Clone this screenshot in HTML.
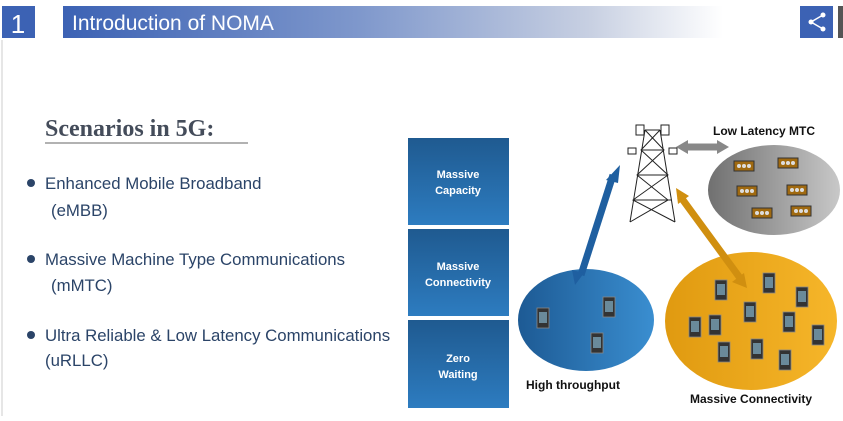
<!DOCTYPE html>
<html><head><meta charset="utf-8"><style>
body{margin:0;width:843px;height:416px;overflow:hidden;background:#fff;}
</style></head><body>
<svg width="843" height="416" viewBox="0 0 843 416" xmlns="http://www.w3.org/2000/svg" font-family="Liberation Sans, sans-serif">
<defs>
<linearGradient id="tb" x1="0" x2="1" y1="0" y2="0">
<stop offset="0" stop-color="#3c62b4"/><stop offset="0.45" stop-color="#7f98cc"/><stop offset="0.8" stop-color="#c8d0e2"/><stop offset="1" stop-color="#fff"/></linearGradient>
<linearGradient id="bx" x1="0" x2="0" y1="0" y2="1"><stop offset="0" stop-color="#1f5a90"/><stop offset="1" stop-color="#2d7cc0"/></linearGradient>
<linearGradient id="be" x1="0" x2="1"><stop offset="0" stop-color="#1d5a94"/><stop offset="1" stop-color="#3a8ed0"/></linearGradient>
<linearGradient id="oe" x1="0" x2="1"><stop offset="0" stop-color="#e09a10"/><stop offset="1" stop-color="#f6b62a"/></linearGradient>
<linearGradient id="ge" x1="0" x2="1"><stop offset="0" stop-color="#707070"/><stop offset="1" stop-color="#c8c8c8"/></linearGradient>
<g id="ph"><rect x="-6" y="-10" width="12" height="20" fill="#333" stroke="#888" stroke-width="0.8"/><rect x="-4" y="-6" width="8" height="11" fill="#6a8a9a"/></g>
<g id="mt"><rect x="-10" y="-5" width="20" height="10" fill="#a06a10" stroke="#333" stroke-width="1"/><circle cx="-5" cy="0" r="2" fill="#ddd"/><circle cx="0" cy="0" r="2" fill="#ddd"/><circle cx="5" cy="0" r="2" fill="#ddd"/></g>
</defs>
<line x1="2" y1="40" x2="2" y2="416" stroke="#ccc"/>
<rect x="2" y="6" width="33" height="32" fill="#3c62b4"/>
<text x="18" y="33" fill="#fff" font-size="26" text-anchor="middle">1</text>
<rect x="63" y="6" width="660" height="32" fill="url(#tb)"/>
<text x="72" y="30" fill="#fff" font-size="21">Introduction of NOMA</text>
<rect x="800" y="6" width="33" height="32" fill="#3c62b4"/>
<circle cx="823" cy="15" r="2.5" fill="#fff"/><circle cx="811" cy="22" r="2.5" fill="#fff"/><circle cx="823" cy="29" r="2.5" fill="#fff"/>
<path d="M823 15L811 22L823 29" stroke="#fff" stroke-width="1.5" fill="none"/>
<rect x="838" y="6" width="5" height="32" fill="#555"/>
<text x="45" y="136" font-family="Liberation Serif, serif" font-weight="bold" font-size="24" fill="#444c5a">Scenarios in 5G:</text>
<line x1="45" y1="143" x2="248" y2="143" stroke="#999" stroke-width="1.5"/>
<g fill="#2b4468" font-size="16.8">
<circle cx="31" cy="183" r="4"/><circle cx="31" cy="259" r="4"/><circle cx="31" cy="335" r="4"/>
<text x="45" y="189">Enhanced Mobile Broadband</text>
<text x="51" y="216">(eMBB)</text>
<text x="45" y="265">Massive Machine Type Communications</text>
<text x="51" y="291">(mMTC)</text>
<text x="45" y="341">Ultra Reliable &amp; Low Latency Communications</text>
<text x="45" y="366">(uRLLC)</text>
</g>
<g font-size="11" font-weight="bold" fill="#fff" text-anchor="middle">
<rect x="408" y="138" width="101" height="87" fill="url(#bx)"/>
<rect x="408" y="229" width="101" height="87" fill="url(#bx)"/>
<rect x="408" y="320" width="101" height="88" fill="url(#bx)"/>
<text x="458" y="178">Massive</text><text x="458" y="194">Capacity</text>
<text x="458" y="270">Massive</text><text x="458" y="286">Connectivity</text>
<text x="458" y="362">Zero</text><text x="458" y="378">Waiting</text>
</g>
<ellipse cx="774" cy="190" rx="66" ry="45" fill="url(#ge)"/>
<ellipse cx="586" cy="320" rx="68" ry="51" fill="url(#be)"/>
<ellipse cx="751" cy="321" rx="86" ry="69" fill="url(#oe)"/>
<g stroke="#222" stroke-width="1" fill="none">
<path d="M645 130L630 222M660 130L675 222M645 130L660 130M641 150L664 150M637 175L668 175M633 200L672 200M645 130L664 150L637 175L668 200L630 222M660 130L641 150L668 175L633 200L675 222"/>
<rect x="636" y="125" width="8" height="10"/><rect x="661" y="125" width="8" height="10"/>
<rect x="628" y="148" width="8" height="6"/><rect x="669" y="148" width="8" height="6"/>
</g>
<path d="M613 175L581 275" stroke="#1f5fa0" stroke-width="7"/>
<path d="M620 165L606 180L618 183Z M575 285L572 270L584 273Z" fill="#1f5fa0"/>
<path d="M680 196L740 278" stroke="#d08f10" stroke-width="7"/>
<path d="M676 188L678 204L689 196Z M747 288L732 282L744 273Z" fill="#d08f10"/>
<path d="M685 147L720 147" stroke="#888" stroke-width="7"/>
<path d="M676 147L688 140L688 154Z M729 147L717 140L717 154Z" fill="#888"/>
<use href="#mt" x="744" y="166"/><use href="#mt" x="788" y="163"/><use href="#mt" x="747" y="191"/><use href="#mt" x="797" y="190"/><use href="#mt" x="762" y="213"/><use href="#mt" x="801" y="211"/>
<use href="#ph" x="543" y="318"/><use href="#ph" x="609" y="307"/><use href="#ph" x="597" y="343"/>
<use href="#ph" x="721" y="290"/><use href="#ph" x="769" y="283"/><use href="#ph" x="802" y="297"/><use href="#ph" x="750" y="312"/><use href="#ph" x="789" y="322"/><use href="#ph" x="695" y="327"/><use href="#ph" x="715" y="325"/><use href="#ph" x="818" y="335"/><use href="#ph" x="724" y="352"/><use href="#ph" x="757" y="349"/><use href="#ph" x="785" y="360"/>
<g font-size="12" font-weight="bold" fill="#111">
<text x="713" y="135">Low Latency MTC</text>
<text x="526" y="389">High throughput</text>
<text x="690" y="403">Massive Connectivity</text>
</g>
</svg>
</body></html>
